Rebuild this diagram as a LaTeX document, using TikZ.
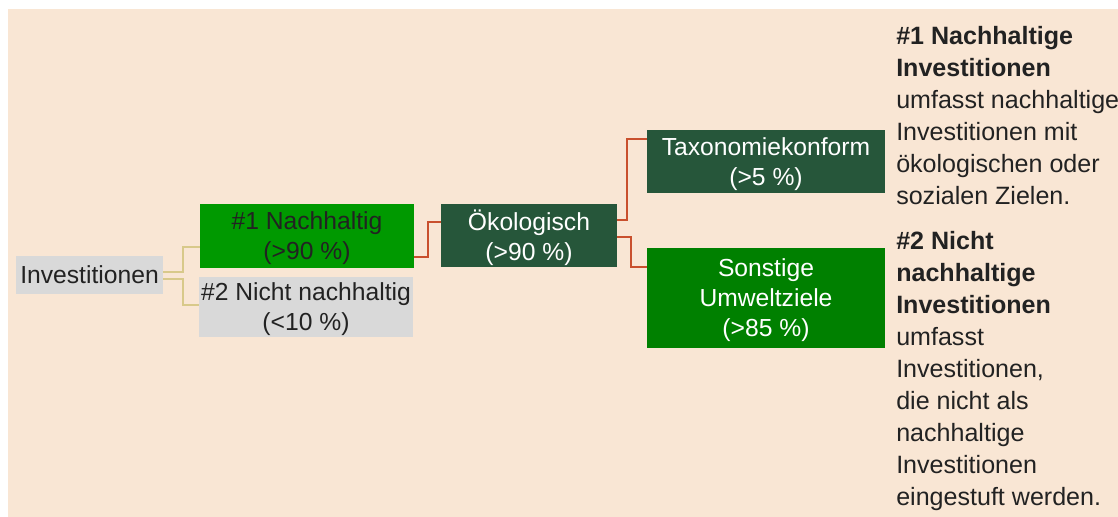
\documentclass[tikz,border=0pt]{standalone}
\usepackage{fontspec}
\setmainfont{Liberation Sans}
\definecolor{hintergrund}{HTML}{F9E6D4}
\definecolor{grau}{HTML}{D9D9D9}
\definecolor{gruen}{HTML}{009900}
\definecolor{dunkelgruen}{HTML}{26563A}
\definecolor{mittelgruen}{HTML}{008000}
\definecolor{gelblinie}{HTML}{D8C98A}
\definecolor{rotlinie}{HTML}{C9502D}
\definecolor{schrift}{HTML}{222222}

\begin{document}
\begin{tikzpicture}[x=0.75pt,y=0.75pt,yscale=-1,xscale=1,
	kasten/.style={inner sep=0pt,align=center,text depth=0pt,font=\fontsize{18.5}{22.5}\selectfont},
	hell/.style={kasten,fill=grau,text=schrift},
	dunkel/.style={kasten,fill=dunkelgruen,text=white},
	gelb/.style={draw=gelblinie,line width=1.5pt},
	rot/.style={draw=rotlinie,line width=1.5pt},
	info/.style={inner sep=0pt,align=left,text=schrift,font=\fontsize{18.8}{24}\selectfont}]
			\useasboundingbox (0,0) rectangle (1118,517);
			\fill[hintergrund] (8,9) rectangle (1118,517);
			
			\node[hell,minimum width=110.25pt,minimum height=28.5pt] (inv) at (89.5,275) {Investitionen};
			\node[kasten,fill=gruen,text=schrift,minimum width=160.5pt,minimum height=48pt] (nach) at (307,236) {\#1 Nachhaltig\\(>90 \%)};
			\node[hell,minimum width=160.5pt,minimum height=45pt] (nicht) at (306,307) {\#2 Nicht nachhaltig\\(<10 \%)};
			\node[dunkel,minimum width=132pt,minimum height=47.25pt] (oeko) at (529,235.5) {Ökologisch\\(>90 \%)};
			\node[dunkel,minimum width=178.5pt,minimum height=47.25pt] (taxo) at (766,161.5) {Taxonomiekonform\\(>5 \%)};
			\node[kasten,fill=mittelgruen,text=white,minimum width=178.5pt,minimum height=75pt] (sonst) at (766,298) {Sonstige\\Umweltziele\\(>85 \%)};
			
			\draw[gelb] ([yshift=-2.25pt]inv.east) -- ++(20,0) |- ([yshift=8.25pt]nach.west);
			\draw[gelb] ([yshift=3pt]inv.east) -- ++(20,0) |- ([yshift=-1.5pt]nicht.west);
			\draw[rot] ([yshift=15.75pt]nach.east) -- ++(14,0) |- ([yshift=-10.1pt]oeko.west);
			\draw[rot] ([yshift=-11.6pt]oeko.east) -- ++(10,0) |- ([yshift=-16.9pt]taxo.west);
			\draw[rot] ([yshift=1.1pt]oeko.east) -- ++(14,0) |- ([yshift=-23.25pt]sonst.west);
			
			\node[info,anchor=north west] (info1) at (896,26) {\textbf{\#1 Nachhaltige}\\\textbf{Investitionen}\\umfasst nachhaltige\\Investitionen mit\\ökologischen oder\\sozialen Zielen.};
			\node[info,anchor=north west] (info2) at (896,231) {\textbf{\#2 Nicht}\\\textbf{nachhaltige}\\\textbf{Investitionen}\\umfasst\\Investitionen,\\die nicht als\\nachhaltige\\Investitionen\\eingestuft werden.};
\end{tikzpicture}
\end{document}
